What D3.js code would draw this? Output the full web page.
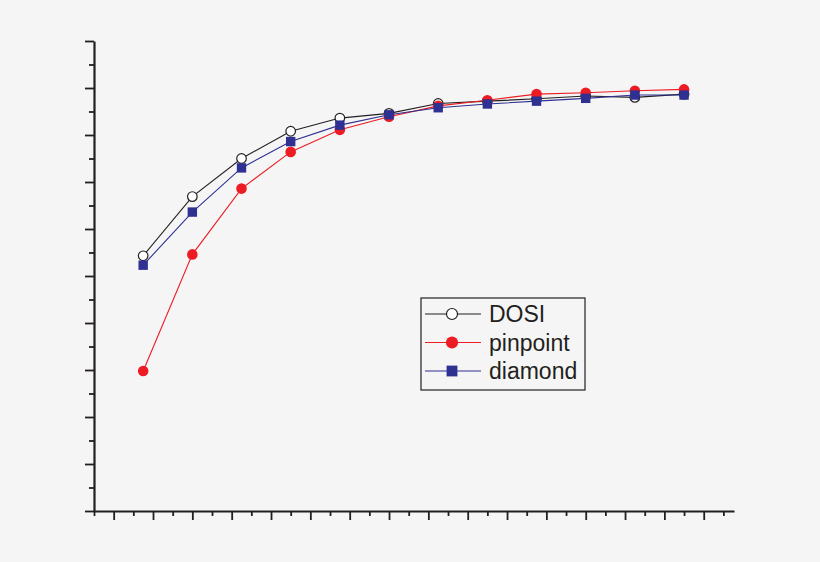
<!DOCTYPE html>
<html>
<head>
<meta charset="utf-8">
<script src="https://cdn.jsdelivr.net/npm/d3@7"></script>
<style>
  html, body { margin: 0; padding: 0; background: #f5f5f5; }
  svg { display: block; }
  .axis path, .axis line { stroke: #231f20; }
</style>
</head>
<body>
<svg width="820" height="562"></svg>
<script>
// x positions of the measurements (no labels in the source figure)
var xs = [5, 10, 15, 20, 25, 30, 35, 40, 45, 50, 55, 60];

var dosi     = [54.3, 66.9, 75.0, 80.8, 83.6, 84.6, 86.7, 87.2, 87.7, 88.3, 88.0, 88.7];
var pinpoint = [29.8, 54.6, 68.6, 76.4, 81.1, 83.9, 86.2, 87.4, 88.7, 89.0, 89.4, 89.7];
var diamond  = [52.3, 63.6, 73.0, 78.6, 82.1, 84.3, 85.8, 86.6, 87.2, 87.8, 88.5, 88.5];

var seriesNames = ["DOSI", "pinpoint", "diamond"];

var xMajor = d3.range(2, 63, 4),
    xMinor = d3.range(0, 65, 4),
    yMajor = d3.range(0, 101, 10),
    yMinor = d3.range(5, 100, 10);

var svg = d3.select("svg"),
    margin = {top: 41, right: 86, bottom: 51, left: 94},
    width = +svg.attr("width") - margin.left - margin.right,
    height = +svg.attr("height") - margin.top - margin.bottom;

var x = d3.scaleLinear().domain([0, 65.08]).range([0, width]);
var y = d3.scaleLinear().domain([0, 100]).range([height, 0]);

var g = svg.append("g")
    .attr("transform", "translate(" + margin.left + "," + margin.top + ")");

// axes: major + minor ticks, no labels
g.append("g")
    .attr("class", "axis")
    .attr("transform", "translate(0," + height + ")")
    .call(d3.axisBottom(x).tickValues(xMinor).tickSize(5).tickSizeOuter(0).tickFormat(""))
    .call(function(s) { s.select(".domain").remove(); });
g.append("g")
    .attr("class", "axis")
    .attr("transform", "translate(0," + height + ")")
    .call(d3.axisBottom(x).tickValues(xMajor).tickSize(9).tickSizeOuter(0).tickFormat(""))
    .call(function(s) { s.select(".domain").attr("stroke-width", 2.2); });

g.append("g")
    .attr("class", "axis")
    .call(d3.axisLeft(y).tickValues(yMinor).tickSize(5).tickSizeOuter(0).tickFormat(""))
    .call(function(s) { s.select(".domain").remove(); });
g.append("g")
    .attr("class", "axis")
    .call(d3.axisLeft(y).tickValues(yMajor).tickSize(9).tickSizeOuter(0).tickFormat(""))
    .call(function(s) { s.select(".domain").attr("stroke-width", 2.2); });

g.selectAll(".axis line").attr("stroke-width", 1.8);

var series = [
  {name: "DOSI", values: dosi, color: "#231f20", marker: "circle"},
  {name: "pinpoint", values: pinpoint, color: "#ed1c24", marker: "dot"},
  {name: "diamond", values: diamond, color: "#2e3192", marker: "square"}
];

var line = d3.line()
    .x(function(d, i) { return x(xs[i]); })
    .y(function(d) { return y(d); });

function drawMarker(sel, s, cx, cy, big) {
  var k = big ? 1.15 : 1;
  if (s.marker === "circle") {
    sel.append("circle").attr("cx", cx).attr("cy", cy).attr("r", 4.8 * k)
        .attr("fill", "#fff").attr("stroke", s.color).attr("stroke-width", 1.2);
  } else if (s.marker === "dot") {
    sel.append("circle").attr("cx", cx).attr("cy", cy).attr("r", 5.3 * k)
        .attr("fill", s.color);
  } else {
    var h = 4.7 * k;
    sel.append("rect").attr("x", cx - h).attr("y", cy - h)
        .attr("width", 2 * h).attr("height", 2 * h).attr("fill", s.color);
  }
}

series.forEach(function(s) {
  var sg = g.append("g").attr("class", "series");
  sg.append("path")
      .datum(s.values)
      .attr("fill", "none")
      .attr("stroke", s.color)
      .attr("stroke-width", 1.1)
      .attr("d", line);
  s.values.forEach(function(v, i) {
    drawMarker(sg, s, x(xs[i]), y(v), false);
  });
});

// legend
var legend = svg.append("g").attr("transform", "translate(421,298)");
legend.append("rect")
    .attr("width", 164).attr("height", 92)
    .attr("fill", "none").attr("stroke", "#231f20").attr("stroke-width", 1.2);

series.forEach(function(s, i) {
  var row = legend.append("g").attr("transform", "translate(0," + (16 + i * 28.5) + ")");
  row.append("line").attr("x1", 4).attr("x2", 60).attr("y1", 0).attr("y2", 0)
      .attr("stroke", s.color).attr("stroke-width", 1.1);
  drawMarker(row, s, 31, 0, true);
  row.append("text")
      .attr("x", 68).attr("y", 0).attr("dy", "0.36em")
      .style("font-family", "'Liberation Sans', Arial, sans-serif")
      .style("font-size", "23px")
      .attr("fill", "#231f20")
      .text(seriesNames[i]);
});
</script>
</body>
</html>
